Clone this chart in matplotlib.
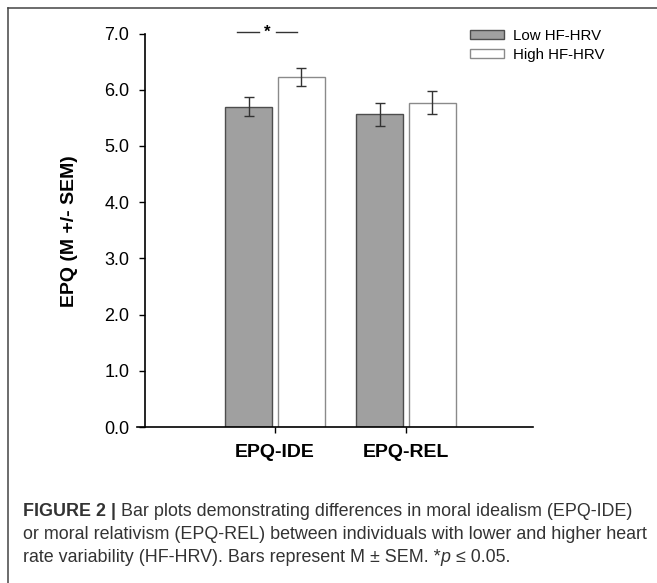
import matplotlib
matplotlib.use("Agg")
import matplotlib.pyplot as plt
from matplotlib.lines import Line2D

plt.rcParams['font.family'] = ['Liberation Sans', 'DejaVu Sans']

# data
groups = ['EPQ-IDE', 'EPQ-REL']
series = ['Low HF-HRV', 'High HF-HRV']
low_mean = [5.70, 5.56]
low_sem = [0.17, 0.20]
high_mean = [6.22, 5.77]
high_sem = [0.16, 0.20]
yticks = [0.0, 1.0, 2.0, 3.0, 4.0, 5.0, 6.0, 7.0]

W, H = 657, 583
fig = plt.figure(figsize=(W / 100, H / 100), dpi=100)
ax = fig.add_axes([137 / W, 1 - 427 / H, (533 - 137) / W, (427 - 33.5) / H])

x = list(range(len(groups)))
bw = 0.36
xl = [i - 0.2 for i in x]
xh = [i + 0.2 for i in x]

ax.bar(xl, low_mean, width=bw, color='#a0a0a0', edgecolor='#4d4d4d', linewidth=1, label=series[0])
ax.bar(xh, high_mean, width=bw, color='white', edgecolor='#8a8a8a', linewidth=1, label=series[1])
ax.errorbar(xl, low_mean, yerr=low_sem, fmt='none', ecolor='#333333', elinewidth=1, capsize=3.6, capthick=1)
ax.errorbar(xh, high_mean, yerr=high_sem, fmt='none', ecolor='#333333', elinewidth=1, capsize=3.6, capthick=1)

ax.set_xlim(-1.053, 1.97)
ax.set_ylim(0, 7)
ax.spines['top'].set_visible(False)
ax.spines['right'].set_visible(False)
ax.spines['left'].set_position(('data', -0.99))
for s in ['left', 'bottom']:
    ax.spines[s].set_linewidth(1.2)

ax.set_yticks(yticks)
ax.set_yticklabels(['%.1f' % v for v in yticks])
ax.tick_params(axis='y', direction='out', length=4.5, width=1, pad=7, labelsize=13)
ax.set_xticks(x)
ax.set_xticklabels(groups, fontweight='bold')
ax.tick_params(axis='x', direction='out', length=4.5, width=1, pad=8, labelsize=14)

# significance bracket
ax.plot([-0.29, -0.12], [7.02, 7.02], color='#333333', lw=1, clip_on=False)
ax.plot([0.01, 0.17], [7.02, 7.02], color='#333333', lw=1, clip_on=False)
ax.text(-0.057, 7.02, '*', ha='center', va='center', fontsize=12, fontweight='bold', clip_on=False)

ax.legend(loc='upper left', bbox_to_anchor=(470 / W, 1 - 29 / H), bbox_transform=fig.transFigure,
          frameon=False, fontsize=10.8, handlelength=2.27, handleheight=0.55, handletextpad=0.6,
          labelspacing=0.3, borderpad=0, borderaxespad=0)

fig.text(70 / W, 1 - 231 / H, 'EPQ (M +/- SEM)', rotation=90, ha='center', va='center',
         fontsize=14, fontweight='bold')

# frame lines at top and left
fig.add_artist(Line2D([8 / W, 1], [1 - 8 / H, 1 - 8 / H], color='#444444', lw=1.1))
fig.add_artist(Line2D([8 / W, 8 / W], [0, 1 - 8 / H], color='#444444', lw=1.1))

# caption
cc = '#333333'
cfs = 12.9
t1 = fig.text(23 / W, 1 - 516 / H, 'FIGURE 2 |', fontsize=cfs, fontweight='bold', color=cc, va='baseline')
fig.canvas.draw()
ax.annotate(' Bar plots demonstrating differences in moral idealism (EPQ-IDE)', xy=(1, 0), xycoords=t1,
            va='bottom', ha='left', fontsize=cfs, color=cc, annotation_clip=False)
fig.text(23 / W, 1 - 539 / H, 'or moral relativism (EPQ-REL) between individuals with lower and higher heart',
         fontsize=cfs, color=cc, va='baseline')
t3 = fig.text(23 / W, 1 - 562.5 / H, 'rate variability (HF-HRV). Bars represent M \u00b1 SEM. *',
              fontsize=cfs, color=cc, va='baseline')
fig.canvas.draw()
t4 = ax.annotate('p', xy=(1, 0), xycoords=t3, va='bottom', ha='left', fontsize=cfs, color=cc,
                 style='italic', annotation_clip=False)
fig.canvas.draw()
ax.annotate(' \u2264 0.05.', xy=(1, 0), xycoords=t4, va='bottom', ha='left', fontsize=cfs, color=cc,
            annotation_clip=False)

fig.savefig('out.png', dpi=100)
